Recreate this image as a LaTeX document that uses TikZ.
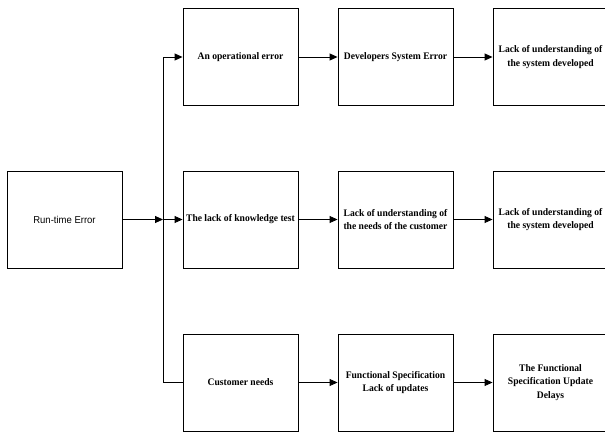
\documentclass[tikz,border=0pt]{standalone}
\usepackage{fontspec}
\setmainfont{Liberation Serif}[FakeStretch=0.96]
\setsansfont{Liberation Sans}[FakeStretch=0.95]
\usetikzlibrary{arrows.meta}
\usetikzlibrary{positioning}
\tikzstyle{box}=[rectangle,draw,line width=0.9pt,minimum width=115pt,minimum height=97pt,inner sep=2pt,align=center,font=\fontsize{10}{13.5}\selectfont\bfseries]
\tikzstyle{edge} = [draw,line width=0.9pt,-{Triangle[length=8pt,width=7pt]}]
\tikzstyle{undirectededge} = [draw,line width=0.9pt]

\begin{document}
\begin{tikzpicture}[x=1pt,y=-1pt]
    \useasboundingbox (0,0) rectangle (605,431);
    \clip (0,0) rectangle (605,431);

% Root
    \node[box,font=\fontsize{10}{13}\selectfont\sffamily] (rt) at (64.5,219.5) {Run-time Error};

% Columns
    \foreach \pos/\name/\label in {{(240.5,57)/a1/An operational error}, {(240.5,219.5)/a2/The lack of knowledge test}, {(240.5,382.5)/a3/Customer needs}}
        \node[box] (\name) at \pos {\label};
    \foreach \pos/\name/\label in {{(395.5,57)/b1/Developers System Error}, {(395.5,219.5)/b2/Lack of understanding of\\the needs of the customer}, {(395.5,382.5)/b3/Functional Specification\\Lack of updates}}
        \node[box] (\name) at \pos {\label};
    \foreach \pos/\name/\label in {{(550.5,57)/c1/Lack of understanding of\\the system developed}, {(550.5,219.5)/c2/Lack of understanding of\\the system developed}, {(550.5,382.5)/c3/The Functional\\Specification Update\\Delays}}
        \node[box] (\name) at \pos {\label};

% Edges
    \coordinate (split) at (163,219.5);
    \path[edge] (rt) -- (split);
    \path[edge] (split) -- (a2);
    \path[edge] (split) |- (a1);
    \path[undirectededge] (split) |- (a3);

    \foreach \source/\dest in {a1/b1, b1/c1, a2/b2, b2/c2, a3/b3, b3/c3}
        \path[edge] (\source) -- (\dest);

\end{tikzpicture}
\end{document}
